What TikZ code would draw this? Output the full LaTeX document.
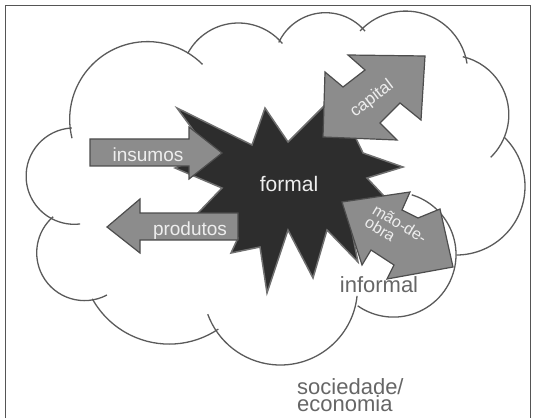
\documentclass[tikz,border=0pt]{standalone}
\usepackage{fontspec}
\setmainfont{Liberation Sans}

\definecolor{framegray}{HTML}{555555}
\definecolor{cloudgray}{HTML}{5A5A5A}
\definecolor{burstfill}{HTML}{2D2D2D}
\definecolor{burstline}{HTML}{707070}
\definecolor{arrowfill}{HTML}{8C8C8C}
\definecolor{arrowline}{HTML}{4D4D4D}
\definecolor{labelwhite}{HTML}{EEEEEE}
\definecolor{textgray}{HTML}{666666}

\begin{document}
\begin{tikzpicture}[x=1pt, y=1pt,
    cloudline/.style={draw=cloudgray, line width=1.3pt},
    burst/.style={fill=burstfill, draw=burstline, line width=1.5pt, line join=miter},
    flow/.style={fill=arrowfill, draw=arrowline, line width=1.2pt, line join=miter},
    flowtext/.style={text=labelwhite, inner sep=0pt},
    outertext/.style={text=textgray, inner sep=0pt}]
    \useasboundingbox (0,0) rectangle (534,418);

    \draw[framegray, line width=0.9pt] (5,0) -- (5,413) -- (530,413) -- (530,0);

    % cloud
    \draw[cloudline] ([shift={(194:77.8)}]147.5,298.6) arc[start angle=194, end angle=45, radius=77.8];
    \draw[cloudline] ([shift={(152:57.4)}]238.4,337.6) arc[start angle=152, end angle=40, radius=57.4];
    \draw[cloudline] ([shift={(155:51.6)}]325.5,353.7) arc[start angle=155, end angle=40, radius=51.6];
    \draw[cloudline] ([shift={(137:62.2)}]405.6,344.7) arc[start angle=137, end angle=9, radius=62.2];
    \draw[cloudline] ([shift={(77:59.4)}]449.4,303.4) arc[start angle=77, end angle=-46, radius=59.4];
    \draw[cloudline] ([shift={(46:68.6)}]456.4,231.6) arc[start angle=46, end angle=-90, radius=68.6];
    \draw[cloudline] ([shift={(73:62.5)}]393.5,163.4) arc[start angle=73, end angle=-125, radius=62.5];
    \draw[cloudline] ([shift={(-6:77.2)}]280.3,130.2) arc[start angle=-6, end angle=-160, radius=77.2];
    \draw[cloudline] ([shift={(-56:87.9)}]169.2,161.8) arc[start angle=-56, end angle=-151, radius=87.9];
    \draw[cloudline] ([shift={(-62:47.8)}]84.5,165.2) arc[start angle=-62, end angle=-229, radius=47.8];
    \draw[cloudline] ([shift={(93:48.2)}]74.3,241.9) arc[start angle=93, end angle=277, radius=48.2];

    % formal
    \filldraw[burst] (177,310) -- (252,273) -- (265,310) -- (288,276) -- (335,323)
        -- (363,265) -- (403,251) -- (367,240) -- (384,222) -- (350,196)
        -- (358,156) -- (327,188) -- (313,140) -- (288,188) -- (267,125)
        -- (260,171) -- (231,165) -- (238,180) -- (198,205) -- (222,230)
        -- (175,250) -- (210,265) -- cycle;

    \filldraw[flow] (90,279) -- (189,279) -- (189,291) -- (222,265) -- (189,239) -- (189,252) -- (90,252) -- cycle;
    \filldraw[flow] (238,205) -- (140,205) -- (140,219) -- (107,191) -- (140,165) -- (140,178) -- (238,178) -- cycle;
    \filldraw[flow] (348,363) -- (425,362) -- (421,298) -- (400,315) -- (380,295)
        -- (397,278) -- (323,281) -- (325,346) -- (343,331) -- (365,348) -- cycle;
    \filldraw[flow] (342,216) -- (410,226) -- (402,208) -- (418,200) -- (440,209)
        -- (453,151) -- (387,139) -- (394,153) -- (371,168) -- (362,153) -- cycle;

    \node[flowtext, anchor=base, font=\fontsize{19}{22}\selectfont] (insumos) at (148,256) {insumos};
    \node[flowtext, anchor=base, font=\fontsize{19}{22}\selectfont] (produtos) at (190,183) {produtos};
    \node[flowtext, anchor=base, font=\fontsize{21}{24}\selectfont] (formal) at (289,227) {formal};
    \node[flowtext, rotate=37, font=\fontsize{17}{19}\selectfont] (capital) at (372,319) {capital};
    \node[flowtext, rotate=-31, align=left, font=\fontsize{16}{15}\selectfont] (maodeobra) at (396,188) {mão-de-\\obra};
    \node[outertext, anchor=base, font=\fontsize{22}{24}\selectfont] (informal) at (379,126) {informal};
    \node[outertext, anchor=north west, align=left, font=\fontsize{22}{17}\selectfont] (sociedade) at (297,40) {sociedade/\\economia};
\end{tikzpicture}
\end{document}
